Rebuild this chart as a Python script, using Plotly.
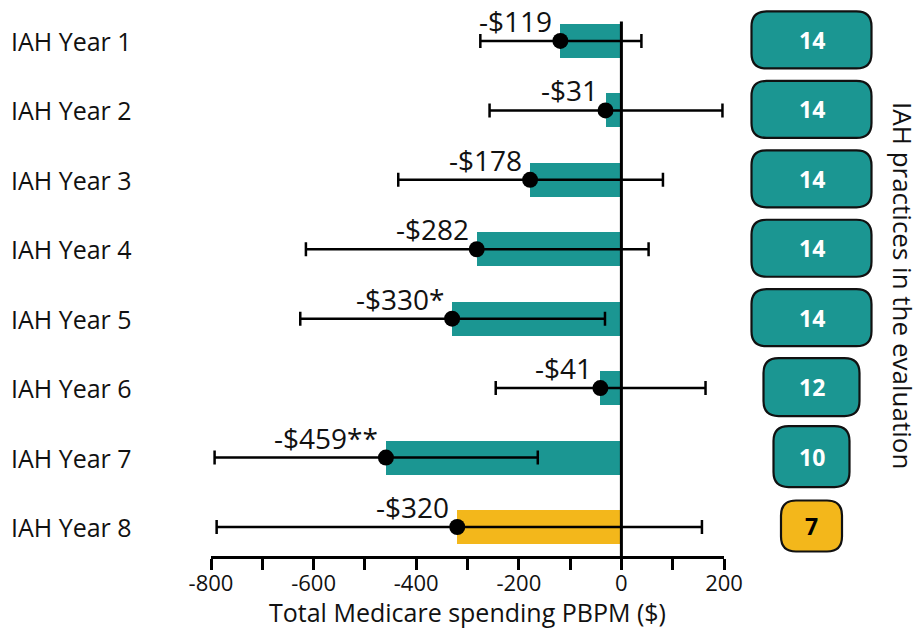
import plotly.graph_objects as go

# ---- data ----
years = ["IAH Year 1", "IAH Year 2", "IAH Year 3", "IAH Year 4",
         "IAH Year 5", "IAH Year 6", "IAH Year 7", "IAH Year 8"]
estimate = [-119, -31, -178, -282, -330, -41, -459, -320]
ci_low = [-275, -257, -435, -615, -626, -245, -793, -789]
ci_high = [39, 197, 81, 53, -32, 164, -163, 157]
stars = ["", "", "", "", "*", "", "**", ""]
practices = [14, 14, 14, 14, 14, 12, 10, 7]
x_ticks = [-800, -700, -600, -500, -400, -300, -200, -100, 0, 100, 200]

# ---- style ----
TEAL = "#1B9692"
GOLD = "#F3B71B"
FONT = "Open Sans"
bar_colors = [TEAL] * 7 + [GOLD]

W, H = 920, 630
ML, MR, MT, MB = 211, 196, 0, 74
PW, PH = W - ML - MR, H - MT - MB
Y_RANGE = [8.418, 0.41]
rows = list(range(1, len(years) + 1))


def px_to_paper_x(px):
    return (px - ML) / PW


def px_to_paper_y(py):
    return (H - MB - py) / PH


def row_to_px(r):
    return MT + (r - Y_RANGE[1]) / (Y_RANGE[0] - Y_RANGE[1]) * PH


def rounded_rect(cx, cy, w, h, r):
    x0, x1 = cx - w / 2, cx + w / 2
    y0, y1 = cy - h / 2, cy + h / 2

    def P(x, y):
        return f"{px_to_paper_x(x):.5f},{px_to_paper_y(y):.5f}"

    return (f"M {P(x0 + r, y0)} L {P(x1 - r, y0)} Q {P(x1, y0)} {P(x1, y0 + r)} "
            f"L {P(x1, y1 - r)} Q {P(x1, y1)} {P(x1 - r, y1)} "
            f"L {P(x0 + r, y1)} Q {P(x0, y1)} {P(x0, y1 - r)} "
            f"L {P(x0, y0 + r)} Q {P(x0, y0)} {P(x0 + r, y0)} Z")


fig = go.Figure()

fig.add_trace(go.Bar(
    x=estimate, y=rows, orientation="h", width=0.49,
    marker=dict(color=bar_colors, line=dict(width=0)),
    hoverinfo="skip", showlegend=False,
))

fig.add_trace(go.Scatter(
    x=estimate, y=rows, mode="markers",
    marker=dict(color="black", size=16),
    error_x=dict(type="data", symmetric=False,
                 array=[h - e for h, e in zip(ci_high, estimate)],
                 arrayminus=[e - l for e, l in zip(estimate, ci_low)],
                 color="black", thickness=2.5, width=7),
    showlegend=False,
))

annotations = []
# value labels
for r, e, s in zip(rows, estimate, stars):
    annotations.append(dict(
        x=e, y=r, xref="x", yref="y", text=f"-${abs(e)}{s}",
        showarrow=False, xanchor="right", yanchor="middle",
        xshift=-6, yshift=20, font=dict(family=FONT, size=28, color="#111"),
    ))

# category labels
for r, name in zip(rows, years):
    annotations.append(dict(
        x=px_to_paper_x(9), y=r, xref="paper", yref="y", text=name,
        showarrow=False, xanchor="left", yanchor="middle",
        font=dict(family=FONT, size=25, color="#111"),
    ))

# practice-count badges
badge_w = [120, 120, 120, 120, 120, 96, 76, 61]
badge_h = [57, 57, 57, 57, 57, 58, 61, 51]
badge_cx = 811.5
shapes = []
for r, n, c, bw, bh in zip(rows, practices, bar_colors, badge_w, badge_h):
    cy = row_to_px(r) - 1
    shapes.append(dict(
        type="path", xref="paper", yref="paper",
        path=rounded_rect(badge_cx, cy, bw, bh, 15),
        fillcolor=c, line=dict(color="#111", width=2.2), layer="above",
    ))
    annotations.append(dict(
        x=px_to_paper_x(badge_cx), y=px_to_paper_y(cy), xref="paper", yref="paper",
        text=f"<b>{n}</b>", showarrow=False, xanchor="center", yanchor="middle",
        font=dict(family=FONT, size=23, color="white" if c == TEAL else "black"),
    ))

annotations.append(dict(
    x=px_to_paper_x(903), y=px_to_paper_y(285), xref="paper", yref="paper",
    text="IAH practices in the evaluation", textangle=90, showarrow=False,
    xanchor="center", yanchor="middle",
    font=dict(family=FONT, size=26, color="#111"),
))

annotations.append(dict(
    x=px_to_paper_x(467), y=px_to_paper_y(612), xref="paper", yref="paper",
    text="Total Medicare spending PBPM ($)", showarrow=False,
    xanchor="center", yanchor="middle",
    font=dict(family=FONT, size=25, color="#111"),
))

# zero reference line
shapes.append(dict(
    type="line", xref="x", yref="y", x0=0, x1=0, y0=0.72, y1=Y_RANGE[0],
    line=dict(color="black", width=3), layer="above",
))

fig.update_layout(
    width=W, height=H,
    margin=dict(l=ML, r=MR, t=MT, b=MB, pad=0),
    plot_bgcolor="white", paper_bgcolor="white",
    showlegend=False,
    annotations=annotations, shapes=shapes,
    xaxis=dict(
        range=[-800, 200], tickvals=x_ticks,
        ticktext=[str(v) if v % 200 == 0 else "" for v in x_ticks],
        showgrid=False, zeroline=False,
        showline=True, linecolor="black", linewidth=3,
        ticks="outside", ticklen=11, tickwidth=3, tickcolor="black",
        ticklabelstandoff=-5,
        tickfont=dict(family=FONT, size=22, color="#111"),
    ),
    yaxis=dict(
        range=Y_RANGE, visible=False, showgrid=False, zeroline=False,
    ),
    bargap=0,
)

fig.write_html("out.html")
